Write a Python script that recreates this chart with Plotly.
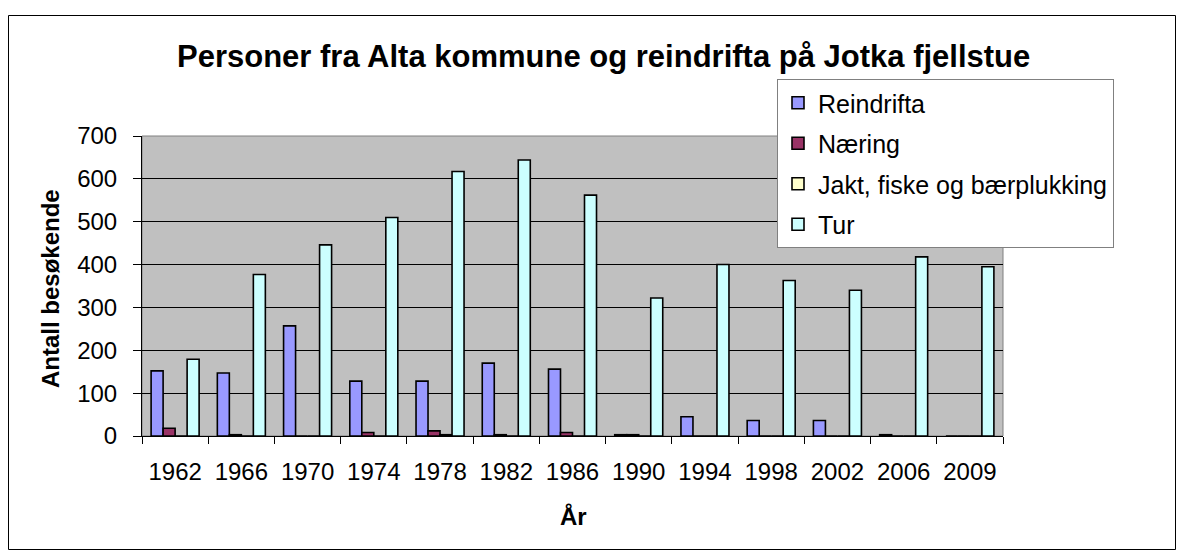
import plotly.graph_objects as go

years = ['1962', '1966', '1970', '1974', '1978', '1982', '1986',
         '1990', '1994', '1998', '2002', '2006', '2009']
reindrifta = [152, 147, 257, 128, 128, 170, 156, 3, 45, 36, 36, 3, 0]
naering = [18, 3, 0, 8, 12, 3, 8, 3, 0, 0, 0, 0, 0]
jakt = [0, 0, 0, 0, 3, 0, 0, 0, 0, 0, 0, 0, 0]
tur = [179, 377, 446, 510, 617, 644, 562, 322, 400, 363, 340, 418, 395]

series = [
    ("Reindrifta", reindrifta, "#9999FF"),
    ("Næring", naering, "#993366"),
    ("Jakt, fiske og bærplukking", jakt, "#FFFFCC"),
    ("Tur", tur, "#CCFFFF"),
]

# page has an 8px body margin; work in page pixel coordinates
OFF = 8
W, H = 1184 - 2 * OFF, 558 - 2 * OFF
L, R, T, B = 142 - OFF, 1003 - OFF, 136 - OFF, 436 - OFF  # plot area (figure px)


def px_x(p):
    return (p - OFF - L) / (R - L)


def px_y(p):
    return (B - (p - OFF)) / (B - T)


FONT = "Arial, Liberation Sans, sans-serif"

fig = go.Figure()
for i, (name, vals, col) in enumerate(series):
    fig.add_trace(go.Bar(
        x=years, y=vals, name=name, legendgroup=str(i),
        marker=dict(color=col, line=dict(color="black", width=1.6)),
    ))

fig.update_layout(
    width=W, height=H,
    margin=dict(l=L, r=W - R, t=T, b=H - B, autoexpand=False),
    paper_bgcolor="white",
    plot_bgcolor="#C0C0C0",
    barmode="group",
    bargap=0.275,
    bargroupgap=0,
    font=dict(family=FONT, size=24, color="black"),
    showlegend=True,
    legend=dict(
        x=px_x(777), y=px_y(79), xanchor="left", yanchor="top",
        bgcolor="white", bordercolor="#808080", borderwidth=1,
        font=dict(size=25), tracegroupgap=5, itemwidth=30,
    ),
    xaxis=dict(
        type="category", showgrid=False, showline=True, linecolor="black",
        linewidth=1, ticks="outside", tickson="boundaries", ticklen=7,
        tickcolor="black", ticklabelstandoff=14, tickfont=dict(size=24),
        fixedrange=True,
    ),
    yaxis=dict(
        range=[0, 700], dtick=100, showgrid=True, gridcolor="black",
        gridwidth=1, showline=True, linecolor="black", linewidth=1,
        ticks="outside", ticklen=8, tickcolor="black", ticklabelstandoff=11,
        tickfont=dict(size=24), zeroline=False, fixedrange=True,
    ),
    shapes=[
        dict(type="rect", xref="paper", yref="paper", x0=0, x1=1, y0=0, y1=1,
             line=dict(color="#808080", width=1), layer="below"),
        dict(type="rect", xref="paper", yref="paper",
             x0=px_x(8.5), x1=px_x(1175.5), y0=px_y(549.5), y1=px_y(15.5),
             line=dict(color="black", width=1)),
    ],
    annotations=[
        dict(text="<b>Personer fra Alta kommune og reindrifta på Jotka fjellstue</b>",
             xref="paper", yref="paper", x=px_x(603), y=px_y(56),
             xanchor="center", yanchor="middle", showarrow=False,
             font=dict(size=31)),
        dict(text="<b>Antall besøkende</b>", xref="paper", yref="paper",
             x=px_x(50), y=px_y(289), xanchor="center", yanchor="middle",
             textangle=-90, showarrow=False, font=dict(size=24)),
        dict(text="<b>År</b>", xref="paper", yref="paper",
             x=px_x(573), y=px_y(516), xanchor="center", yanchor="middle",
             showarrow=False, font=dict(size=24)),
    ],
)

fig.write_html("out.html")
